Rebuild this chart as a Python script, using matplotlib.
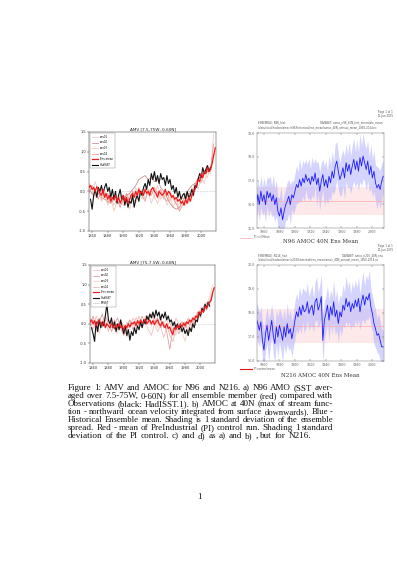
import numpy as np
import matplotlib
matplotlib.use("Agg")
import matplotlib.pyplot as plt
from matplotlib.lines import Line2D

W, H = 397, 561

# ---------------- DATA ----------------
# (a) N96 AMV: ensemble members (every 4 years from 1856), ensemble mean and obs (every 2 years)
amv96_mean = [0.1, 0.15, 0.05, 0.1, 0.0, 0.12, 0.05, -0.05,
              -0.1, 0.05, -0.15, -0.05, -0.2, -0.1, -0.25, -0.15, -0.2, -0.1,
              -0.25, -0.15, -0.3, -0.2, -0.1, -0.25, -0.15, -0.3, -0.2, -0.1,
              -0.05, -0.15, 0.0, -0.1, 0.05, -0.05, 0.0, -0.1, 0.05, -0.05,
              0.0, -0.1, 0.05, 0.1, 0.0, -0.05, -0.15, 0.0, -0.05, -0.1,
              -0.05, 0.05, -0.1, 0.0, -0.05, -0.15, -0.1, -0.2, -0.15, -0.25,
              -0.2, -0.3, -0.25, -0.35, -0.2, -0.3, -0.15, -0.25, -0.1, 0.0,
              0.05, 0.15, 0.3, 0.25, 0.45, 0.35, 0.5, 0.45, 0.6, 0.5,
              0.55, 0.7, 0.9, 1.1]
amv96_obs = [-0.2, -0.45, -0.1, 0.05, -0.15, 0.1, 0.0, 0.15, -0.05, 0.1,
             0.2, 0.0, 0.1, -0.15, 0.05, -0.2, 0.0, -0.3, -0.1, 0.05,
             -0.2, -0.1, -0.35, -0.15, -0.4, -0.25, -0.3, -0.1, -0.4, -0.2,
             -0.1, -0.25, 0.0, -0.1, 0.1, 0.2, 0.05, 0.3, 0.15, 0.45,
             0.3, 0.5, 0.25, 0.4, 0.2, 0.45, 0.3, 0.35, 0.15, 0.4,
             0.2, 0.3, 0.05, 0.15, -0.05, 0.1, -0.15, 0.0, -0.2, -0.1,
             -0.05, -0.2, 0.0, -0.15, -0.1, 0.05, -0.1, 0.15, 0.1, 0.3,
             0.45, 0.35, 0.6, 0.45, 0.55, 0.65, 0.5, 0.6]
amv96_ens1 = [0.15, -0.1, 0.25, 0.0, -0.2, 0.05, -0.3, -0.1, -0.35, -0.2,
              -0.4, -0.15, -0.3, -0.05, -0.25, 0.1, -0.1, 0.05, -0.2, 0.0,
              -0.3, -0.1, 0.15, -0.2, -0.05, -0.35, -0.15, -0.4, -0.2, -0.45,
              -0.25, -0.05, -0.3, 0.0, 0.2, 0.05, 0.35, 0.2, 0.5, 0.45,
              1.45]
amv96_ens2 = [0.05, -0.05, -0.1, -0.05, -0.15, -0.2, -0.25, -0.3, -0.2, -0.3,
              -0.25, -0.2, -0.1, -0.05, 0.05, 0.15, 0.3, 0.35, 0.4, 0.3,
              0.35, 0.25, 0.3, 0.1, 0.0, -0.15, -0.3, -0.4, -0.45, -0.4,
              -0.25, -0.1, 0.05, 0.15, 0.2, 0.3, 0.4, 0.45, 0.5, 0.6,
              0.95]
amv96_ens3 = [0.2, 0.05, -0.15, 0.1, -0.25, -0.05, -0.35, -0.15, -0.5, -0.25,
              -0.1, -0.35, -0.2, -0.45, -0.15, -0.3, 0.0, -0.2, 0.1, -0.1,
              0.05, -0.15, -0.3, -0.05, -0.2, 0.0, -0.25, -0.1, -0.35, -0.3,
              -0.15, -0.35, -0.1, 0.1, 0.0, 0.3, 0.2, 0.45, 0.35, 0.65,
              0.85]
amv96_ens4 = [-0.05, 0.15, 0.0, -0.2, 0.05, -0.15, -0.05, -0.3, -0.1, -0.2,
              -0.4, -0.2, -0.05, -0.25, 0.0, -0.15, 0.1, -0.1, -0.25, 0.05,
              -0.1, 0.1, -0.05, 0.05, -0.15, -0.25, 0.0, -0.2, -0.3, -0.5,
              -0.35, -0.2, -0.05, -0.15, 0.15, 0.35, 0.25, 0.5, 0.65, 0.55,
              1.2]

# (c) N216 AMV
amv216_mean = [0.05, 0.1, 0.0, 0.08, -0.05, 0.05, 0.1, 0.0,
               -0.05, 0.05, -0.1, 0.0, -0.05, -0.1, 0.0, -0.05, -0.12, -0.02,
               -0.08, 0.0, -0.1, -0.05, -0.15, -0.05, -0.1, 0.0, -0.08, 0.02,
               0.0, 0.05, -0.05, 0.08, 0.0, 0.1, 0.02, 0.05, 0.12, 0.0,
               0.05, 0.1, 0.0, 0.08, -0.02, 0.05, 0.1, 0.0, -0.05, 0.05,
               -0.05, -0.1, 0.0, -0.12, -0.08, -0.2, -0.28, -0.1, -0.15, -0.05,
               -0.1, 0.0, -0.08, 0.02, -0.05, 0.05, 0.0, 0.1, 0.05, 0.15,
               0.1, 0.2, 0.15, 0.3, 0.25, 0.35, 0.3, 0.45, 0.4, 0.5,
               0.55, 0.6, 0.8, 0.92]
amv216_obs = [-0.1, -0.25, -0.45, 0.05, -0.2, 0.1, -0.1, 0.05, -0.05, 0.2,
              0.5, 0.1, 0.0, 0.15, -0.1, 0.05, -0.2, 0.0, -0.15, 0.1,
              -0.1, -0.25, -0.05, -0.3, -0.15, -0.42, -0.2, -0.3, -0.1, -0.25,
              -0.05, -0.15, 0.05, -0.1, 0.1, 0.0, 0.2, 0.1, 0.25, 0.15,
              0.3, 0.15, 0.35, 0.2, 0.3, 0.1, 0.25, 0.15, 0.3, 0.1,
              0.2, 0.05, 0.1, -0.05, 0.05, -0.1, 0.0, -0.15, -0.05, -0.2,
              -0.1, -0.25, -0.15, -0.3, -0.1, -0.2, 0.0, -0.1, 0.1, 0.05,
              0.3, 0.2, 0.4, 0.3, 0.5, 0.4, 0.55, 0.45]
amv216_ens1 = [0.1, -0.15, 0.2, 0.0, -0.1, 0.1, -0.2, 0.05, -0.15, -0.05,
               0.1, -0.2, 0.05, -0.1, 0.15, 0.0, 0.2, -0.05, 0.1, -0.15,
               -0.3, 0.0, -0.2, -0.05, -0.35, -0.1, 0.05, -0.2, 0.15, 0.0,
               0.05, -0.1, 0.1, 0.0, 0.2, 0.15, 0.35, 0.3, 0.5, 0.6,
               0.85]
amv216_ens2 = [-0.05, 0.2, -0.1, 0.05, 0.25, -0.05, 0.1, -0.2, 0.0, 0.15,
               -0.1, -0.3, -0.05, 0.1, -0.15, 0.05, -0.05, 0.2, 0.0, 0.1,
               0.25, 0.05, 0.15, -0.1, 0.05, -0.2, -0.65, -0.15, -0.05, -0.25,
               -0.1, 0.05, -0.2, 0.1, 0.0, 0.3, 0.2, 0.45, 0.35, 0.55,
               0.75]
amv216_ens3 = [0.15, -0.05, 0.05, -0.25, 0.1, 0.0, -0.15, 0.1, -0.05, -0.25,
               0.0, -0.1, -0.35, -0.05, 0.05, -0.1, 0.1, -0.05, 0.2, 0.05,
               0.0, 0.2, -0.1, 0.1, -0.05, 0.15, -0.2, -0.1, -0.3, 0.0,
               -0.2, -0.45, -0.05, -0.15, 0.15, 0.05, 0.4, 0.3, 0.5, 0.7,
               1.0]
amv216_ens4 = [0.0, 0.1, -0.2, 0.15, -0.05, 0.2, 0.0, -0.1, 0.1, -0.15,
               0.05, -0.05, -0.2, 0.1, -0.05, 0.15, 0.05, -0.1, 0.05, 0.2,
               -0.05, 0.1, 0.0, 0.2, -0.1, 0.0, -0.3, -0.45, -0.15, -0.05,
               0.05, -0.1, 0.15, -0.05, 0.1, 0.25, 0.15, 0.4, 0.55, 0.5,
               0.8]

amv_member_labels = ["ens01", "ens02", "ens03", "ens04"]
amv_mean_label = "Ens mean"
amv_obs_label = "HadISST"
amv_obs2_label = "ERSST"
amv_yticks = [-1.0, -0.5, 0.0, 0.5, 1.0, 1.5]
year_ticks = [1860, 1880, 1900, 1920, 1940, 1960, 1980, 2000]

# (b) N96 AMOC 40N, historical ensemble mean & spread (every 2 years from 1850), PI control
amoc96_mean = [15.85, 16.41, 15.99, 16.55, 16.13,
               16.4, 15.98, 16.55, 16.27, 16.48, 16.13, 16.4, 15.98, 16.27, 15.7,
               15.5, 15.85, 15.35, 15.7, 15.98, 16.13, 16.34, 15.98, 16.4, 16.27,
               16.55, 16.83, 16.7, 17.04, 16.76, 17.1, 16.9, 17.25, 16.97, 17.1,
               16.83, 17.18, 16.97, 17.32, 16.83, 17.1, 16.55, 16.97, 17.25, 16.76,
               17.04, 16.7, 17.18, 16.9, 17.39, 17.1, 17.6, 17.82, 17.39, 17.04,
               17.25, 17.54, 17.11, 17.75, 17.39, 17.68, 17.25, 17.61, 17.89, 17.46,
               17.82, 17.39, 17.96, 17.61, 18.03, 17.75, 17.46, 17.82, 17.25, 17.61,
               17.11, 17.39, 16.9, 16.69, 16.83, 16.62, 16.97, 17.18]
amoc96_std = [0.55, 0.6, 0.7, 0.65, 0.6,
              0.7, 0.75, 0.6, 0.8, 0.7, 0.65, 0.85, 0.7, 0.75, 0.6,
              0.8, 0.9, 0.7, 0.75, 0.65, 0.8, 0.7, 0.85, 0.6, 0.7,
              0.75, 0.8, 0.65, 0.9, 0.7, 0.75, 0.8, 0.65, 0.7, 0.85,
              0.7, 0.8, 0.75, 0.6, 0.9, 0.7, 0.8, 0.75, 0.65, 0.85,
              0.8, 0.7, 0.9, 0.75, 0.85, 0.7, 0.95, 0.8, 0.75, 0.7,
              0.85, 0.75, 0.9, 0.8, 0.7, 0.95, 0.8, 0.85, 0.9, 0.75,
              0.9, 0.8, 1.0, 0.85, 0.95, 0.8, 0.9, 0.85, 0.75, 0.9,
              0.8, 0.85, 0.75, 0.9, 0.7, 0.8, 0.75, 0.7]
amoc96_pi_mean = 16.13
amoc96_pi_std = 0.58
amoc96_yticks = [15, 16, 17, 18, 19]

# (d) N216 AMOC 40N
amoc216_mean = [17.77, 17.56, 17.28, 17.63, 16.86,
                16.45, 17.14, 17.49, 16.86, 17.28, 17.70, 17.07, 16.72, 17.42, 17.0,
                17.49, 17.21, 16.86, 17.42, 17.0, 17.56, 17.14, 17.35, 16.93, 17.28,
                17.70, 18.05, 17.84, 18.26, 17.91, 18.33, 18.05, 18.12, 18.47, 17.98,
                18.19, 18.33, 17.91, 18.47, 18.61, 18.12, 18.33, 18.68, 16.86, 17.70,
                17.98, 18.33, 17.70, 18.26, 17.91, 18.47, 17.84, 18.12, 17.56, 18.05,
                17.84, 18.33, 18.12, 18.61, 18.26, 18.47, 18.05, 18.40, 18.19, 18.54,
                18.26, 18.61, 18.05, 18.47, 18.75, 18.33, 18.68, 18.54, 18.82, 18.26,
                17.98, 17.56, 17.35, 17.07, 17.14, 16.86, 16.59, 16.59]
amoc216_std = [0.6, 0.75, 0.7, 0.65, 0.8,
               0.85, 0.7, 0.75, 0.9, 0.7, 0.65, 0.8, 0.75, 0.7, 0.85,
               0.7, 0.8, 0.9, 0.75, 0.7, 0.85, 0.7, 0.8, 0.75, 0.7,
               0.8, 0.75, 0.7, 0.85, 0.8, 0.7, 0.9, 0.75, 0.8, 0.7,
               0.75, 0.85, 0.7, 0.8, 0.9, 0.75, 0.8, 0.95, 1.0, 0.8,
               0.75, 0.8, 0.85, 0.7, 0.8, 0.9, 0.75, 0.85, 0.8, 0.7,
               0.8, 0.85, 0.75, 0.95, 0.8, 0.85, 0.75, 0.9, 0.8, 0.85,
               0.8, 0.9, 0.75, 0.85, 1.0, 0.8, 0.9, 0.85, 0.95, 0.8,
               0.75, 0.85, 0.8, 0.7, 0.85, 0.8, 0.75, 0.7]
amoc216_pi_mean = 17.45
amoc216_pi_std = 0.7
amoc216_yticks = [16, 17, 18, 19, 20]

caption_lines = [
    "Figure 1: AMV and AMOC for N96 and N216.  a) N96 AMO (SST aver-",
    "aged over 7.5-75W, 0-60N) for all ensemble member (red) compared with",
    "Observations (black: HadISST.1).  b) AMOC at 40N (max of stream func-",
    "tion - northward ocean velocity integrated from surface downwards).  Blue -",
    "Historical Ensemble mean.  Shading is 1 standard deviation of the ensemble",
    "spread.  Red - mean of PreIndustrial (PI) control run.  Shading 1 standard",
    "deviation of the PI control.  c) and d) as a) and b) , but for N216.",
]

# ---------------- FIGURE ----------------
fig = plt.figure(figsize=(W / 100, H / 100), dpi=100)
fig.patch.set_facecolor("white")


def px_axes(x0, y0, x1, y1):
    return fig.add_axes([x0 / W, 1 - y1 / H, (x1 - x0) / W, (y1 - y0) / H])


def fx(x):
    return x / W


def fy(y):
    return 1 - y / H


member_colors = ["#e9c9c9", "#c98686", "#f7c4aa", "#f29494"]
member_colors216 = ["#f3bcbc", "#d99a9a", "#f7cfc3", "#efb0b0"]


def amv_panel(ax, mean, obs, members, colors, title, extra_legend=False):
    y4 = 1856 + 4 * np.arange(len(members[0]))
    y2m = 1856 + 2 * np.arange(len(mean))
    y2o = 1858 + 2 * np.arange(len(obs))
    handles = []
    for m, c, lab in zip(members, colors, amv_member_labels):
        h, = ax.plot(y4, m, color=c, lw=0.55, label=lab)
        handles.append(h)
    ax.axhline(0, color="#999999", lw=0.4, ls=":", zorder=1)
    h, = ax.plot(y2m, mean, color="#ee1c1c", lw=0.9, label=amv_mean_label, zorder=4)
    handles.append(h)
    h, = ax.plot(y2o, obs, color="#111111", lw=0.8, label=amv_obs_label, zorder=3)
    handles.append(h)
    if extra_legend:
        handles.append(Line2D([], [], color="#cccccc", lw=0.5, label=amv_obs2_label))
    ax.set_xlim(1856, 2019)
    ax.set_ylim(-1.0, 1.5)
    ax.set_yticks(amv_yticks)
    ax.set_yticklabels(["%.1f" % v for v in amv_yticks])
    ax.set_xticks(year_ticks)
    ax.tick_params(labelsize=2.6, length=1.2, width=0.3, pad=1, colors="#333333")
    for s in ax.spines.values():
        s.set_linewidth(0.35)
        s.set_color("#333333")
    ax.set_title(title, fontsize=3.0, pad=1.5, color="#222222")
    leg = ax.legend(handles=handles, loc="upper left", fontsize=1.9, handlelength=2.2,
                    labelspacing=0.6, borderpad=0.6, frameon=True, fancybox=False,
                    edgecolor="#666666", handletextpad=0.8)
    leg.get_frame().set_linewidth(0.3)


ax_a = px_axes(89, 132, 216, 231)
amv_panel(ax_a, amv96_mean, amv96_obs, [amv96_ens1, amv96_ens2, amv96_ens3, amv96_ens4],
          member_colors, "AMV [7.5-75W, 0-60N]")

ax_c = px_axes(90, 265, 215, 363)
amv_panel(ax_c, amv216_mean, amv216_obs, [amv216_ens1, amv216_ens2, amv216_ens3, amv216_ens4],
          member_colors216, "AMV [75-7.5W, 0-60N]", extra_legend=True)


def amoc_panel(ax, mean, std, pi_mean, pi_std, yticks):
    yrs = 1850 + 2 * np.arange(len(mean))
    mean = np.array(mean)
    std = np.array(std)
    ax.axhspan(pi_mean - pi_std, pi_mean + pi_std, color="#fde9e9", lw=0, zorder=0)
    ax.fill_between(yrs, mean - std, mean + std, color="#b8b8ff", alpha=0.6, lw=0, zorder=1)
    ax.axhline(pi_mean, color="#ffaaaa", lw=0.5, zorder=2)
    ax.plot(yrs, mean, color="#1a1aff", lw=0.6, zorder=3)
    ax.set_xlim(1851, 2015)
    ax.set_ylim(yticks[0], yticks[-1])
    ax.set_yticks(yticks)
    ax.set_yticklabels(["%.1f" % v for v in yticks])
    ax.set_xticks(year_ticks)
    ax.tick_params(labelsize=2.3, length=1.5, width=0.3, pad=1.5, direction="in",
                   top=True, right=True, colors="#555555")
    for lab in ax.get_xticklabels() + ax.get_yticklabels():
        lab.set_family("DejaVu Serif")
    for s in ax.spines.values():
        s.set_linewidth(0.35)
        s.set_color("#777777")


ax_b = px_axes(257, 133, 384, 228)
amoc_panel(ax_b, amoc96_mean, amoc96_std, amoc96_pi_mean, amoc96_pi_std, amoc96_yticks)
ax_d = px_axes(257, 265, 384, 361)
amoc_panel(ax_d, amoc216_mean, amoc216_std, amoc216_pi_mean, amoc216_pi_std, amoc216_yticks)

# headers / annotations for the AMOC panels
small = dict(fontsize=1.9, color="#555555", family="DejaVu Sans")
fig.text(fx(378), fy(114), "Page 1 of 1\n12-Jun-2015", ha="left", va="center", linespacing=1.0, **small)
fig.text(fx(258), fy(123), "ENSEMBLE: N96_hist", ha="left", va="baseline", **small)
fig.text(fx(383), fy(123), "DATASET: amoc_n96_40N_hist_ensemble_mean", ha="right", va="baseline", **small)
fig.text(fx(258), fy(128.5), "/data/local/hadom/amoc/n96/historical/ens_mean/amoc_40N_annual_mean_1850-2014.nc",
         ha="left", va="baseline", **small)
fig.text(fx(320.5), fy(243), "N96 AMOC 40N Ens Mean", ha="center", va="baseline",
         fontsize=4.0, family="DejaVu Serif", color="#333333")
fig.add_artist(Line2D([fx(240), fx(252)], [fy(237.5), fy(237.5)], color="#ffaaaa", lw=0.5))
fig.text(fx(254), fy(238.5), "PI ctrl Mean", ha="left", va="baseline", **small)

fig.text(fx(378), fy(248), "Page 1 of 1\n12-Jun-2015", ha="left", va="center", linespacing=1.0, **small)
fig.text(fx(258), fy(256), "ENSEMBLE: N216_hist", ha="left", va="baseline", **small)
fig.text(fx(383), fy(256), "DATASET: amoc_n216_40N_ens", ha="right", va="baseline", **small)
fig.text(fx(258), fy(260.5), "/data/local/hadom/amoc/n216/historical/ens_mean/amoc_40N_annual_mean_1850-2014.nc",
         ha="left", va="baseline", **small)
fig.add_artist(Line2D([fx(240), fx(252)], [fy(368.5), fy(368.5)], color="#ee1111", lw=0.8))
fig.text(fx(254), fy(369.5), "PI control mean", ha="left", va="baseline", **small)
fig.text(fx(320.5), fy(377), "N216 AMOC 40N Ens Mean", ha="center", va="baseline",
         fontsize=4.0, family="DejaVu Serif", color="#333333")

# ---------------- CAPTION (justified) ----------------
renderer = fig.canvas.get_renderer()
cap_x0, cap_x1 = 68, 333
cap_y0, cap_dy = 390, 8.0
cap_family = "Liberation Serif"


def place_line(line, y, fs, justify):
    words = line.split()
    objs = [fig.text(0, fy(y), w, fontsize=fs, family=cap_family, va="baseline", ha="left",
                     color="#111111") for w in words]
    widths = [o.get_window_extent(renderer).width for o in objs]
    min_gap = fig.dpi * fs / 72 * 0.24
    if justify:
        gap = (cap_x1 - cap_x0 - sum(widths)) / (len(words) - 1)
    else:
        gap = fig.dpi * fs / 72 * 0.3
    if gap < min_gap:
        for o in objs:
            o.remove()
        return False
    x = cap_x0
    for o, w in zip(objs, widths):
        o.set_x(fx(x))
        x += w + gap
    return True


cap_fs = 6.6
for i, line in enumerate(caption_lines):
    y = cap_y0 + i * cap_dy
    fs = cap_fs
    last = i == len(caption_lines) - 1
    while not place_line(line, y, fs, not last):
        fs -= 0.1

fig.text(fx(200), fy(499), "1", ha="center", va="baseline", fontsize=cap_fs, family=cap_family,
         color="#111111")

fig.savefig("out.png", dpi=100)
